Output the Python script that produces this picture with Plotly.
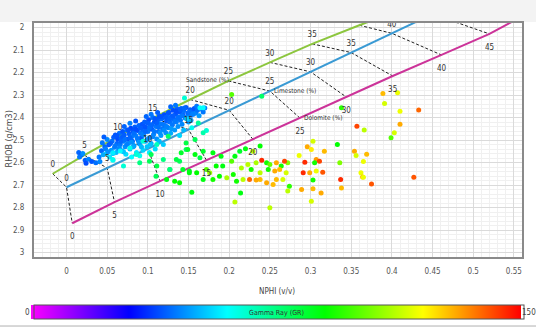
import plotly.graph_objects as go

# ---- lithology curves: porosity steps (%) with NPHI (v/v) and RHOB (g/cm3) ----
porosity = [0, 5, 10, 15, 20, 25, 30, 35, 40, 45]
porosity_dol = [0, 5, 10, 15, 20, 25, 30, 35, 40, 45, 50]

sand_nphi = [-0.017, 0.022, 0.063, 0.106, 0.152, 0.199, 0.250, 0.302, 0.360, 0.420]
sand_rhob = [2.65, 2.5675, 2.485, 2.4025, 2.32, 2.2375, 2.155, 2.0725, 1.99, 1.9075]
lime_nphi = [0.0, 0.05, 0.10, 0.15, 0.20, 0.25, 0.30, 0.35, 0.40, 0.45]
lime_rhob = [2.71, 2.6245, 2.539, 2.4535, 2.368, 2.2825, 2.197, 2.1115, 2.026, 1.9405]
dol_nphi = [0.007, 0.059, 0.115, 0.172, 0.229, 0.287, 0.344, 0.401, 0.461, 0.520, 0.568]
dol_rhob = [2.87, 2.7765, 2.683, 2.5895, 2.496, 2.4025, 2.309, 2.2155, 2.122, 2.0285, 1.935]

# ---- log samples (NPHI, RHOB, GR) ----
clean_nphi = [
    0.015, 0.018, 0.016, 0.023, 0.027, 0.031, 0.036, 0.041, 0.024, 0.020,
    0.044, 0.047, 0.050, 0.052, 0.055, 0.056, 0.058, 0.059, 0.061, 0.062, 0.063, 0.064, 0.049, 0.053, 0.057, 0.060, 0.065, 0.046,
    0.066, 0.067, 0.068, 0.069, 0.070, 0.071, 0.072, 0.073, 0.074, 0.075, 0.076, 0.077, 0.078, 0.079, 0.080, 0.081, 0.082, 0.083,
    0.084, 0.085, 0.086, 0.087, 0.088, 0.089, 0.090, 0.091, 0.092, 0.093, 0.094, 0.094, 0.071, 0.078, 0.085, 0.080, 0.090,
    0.095, 0.096, 0.097, 0.098, 0.099, 0.100, 0.101, 0.102, 0.103, 0.104, 0.105, 0.106, 0.107, 0.108, 0.109, 0.110, 0.111,
    0.112, 0.113, 0.114, 0.115, 0.116, 0.117, 0.118, 0.119, 0.120, 0.121, 0.122, 0.123, 0.124, 0.098, 0.104, 0.112, 0.102, 0.114,
    0.125, 0.126, 0.127, 0.128, 0.129, 0.130, 0.131, 0.132, 0.133, 0.134, 0.135, 0.136, 0.137, 0.138, 0.139, 0.140, 0.141,
    0.142, 0.143, 0.144, 0.146, 0.147, 0.149, 0.150, 0.152, 0.128, 0.134, 0.139, 0.144,
    0.153, 0.155, 0.157, 0.159, 0.161, 0.165, 0.168, 0.153,
    0.040, 0.043, 0.045, 0.048, 0.051, 0.054, 0.057, 0.060, 0.062, 0.065, 0.067, 0.069, 0.070, 0.072, 0.074,
    0.076, 0.078, 0.080, 0.082, 0.083, 0.085, 0.087, 0.089, 0.091, 0.092, 0.094, 0.096, 0.097, 0.099, 0.100,
    0.102, 0.103, 0.105, 0.106, 0.108, 0.109, 0.111, 0.113, 0.115, 0.116, 0.118, 0.120, 0.122, 0.123, 0.125,
    0.127, 0.129, 0.131, 0.133, 0.135, 0.137, 0.140, 0.142, 0.145, 0.148, 0.151, 0.156, 0.160, 0.163, 0.170,
]
clean_rhob = [
    2.556, 2.566, 2.575, 2.590, 2.585, 2.596, 2.601, 2.596, 2.603, 2.560,
    2.512, 2.530, 2.498, 2.521, 2.545, 2.505, 2.488, 2.532, 2.556, 2.515, 2.497, 2.540, 2.560, 2.575, 2.590, 2.478, 2.470, 2.487,
    2.520, 2.492, 2.548, 2.462, 2.505, 2.478, 2.530, 2.563, 2.455, 2.497, 2.515, 2.472, 2.540, 2.448, 2.486, 2.505, 2.462, 2.525,
    2.442, 2.480, 2.555, 2.458, 2.500, 2.435, 2.518, 2.470, 2.490, 2.430, 2.545, 2.455, 2.440, 2.425, 2.415, 2.575, 2.570,
    2.478, 2.420, 2.505, 2.445, 2.530, 2.462, 2.410, 2.490, 2.432, 2.515, 2.452, 2.400, 2.475, 2.420, 2.540, 2.440, 2.495,
    2.412, 2.462, 2.395, 2.428, 2.480, 2.405, 2.450, 2.520, 2.388, 2.435, 2.468, 2.415, 2.398, 2.395, 2.385, 2.378, 2.555, 2.505,
    2.445, 2.378, 2.420, 2.470, 2.395, 2.432, 2.368, 2.408, 2.455, 2.385, 2.420, 2.362, 2.440, 2.398, 2.375, 2.412, 2.360,
    2.430, 2.388, 2.370, 2.402, 2.355, 2.380, 2.420, 2.365, 2.352, 2.345, 2.480, 2.455,
    2.390, 2.372, 2.360, 2.380, 2.368, 2.362, 2.375, 2.412,
    2.575, 2.548, 2.565, 2.540, 2.552, 2.515, 2.560, 2.525, 2.480, 2.535, 2.505, 2.485, 2.552, 2.498, 2.520,
    2.455, 2.490, 2.510, 2.530, 2.470, 2.452, 2.492, 2.510, 2.448, 2.530, 2.476, 2.440, 2.462, 2.498, 2.425,
    2.445, 2.520, 2.432, 2.485, 2.462, 2.405, 2.425, 2.442, 2.468, 2.395, 2.430, 2.455, 2.400, 2.440, 2.380,
    2.405, 2.450, 2.392, 2.418, 2.372, 2.402, 2.365, 2.392, 2.358, 2.398, 2.375, 2.385, 2.350, 2.392, 2.358,
]
clean_gr = [
    42, 40, 44, 41, 45, 40, 43, 46, 39, 47,
    44, 42, 46, 40, 48, 43, 41, 45, 52, 42, 39, 47, 55, 58, 60, 40, 43, 41,
    44, 42, 50, 40, 45, 41, 47, 56, 43, 39, 46, 41, 51, 38, 44, 42, 40, 48,
    41, 45, 57, 39, 43, 42, 49, 44, 41, 40, 55, 43, 42, 45, 40, 60, 62,
    46, 41, 48, 40, 53, 44, 39, 45, 42, 50, 41, 43, 46, 40, 56, 44, 47,
    41, 43, 40, 45, 48, 42, 44, 54, 39, 43, 47, 41, 44, 42, 44, 41, 58, 52,
    46, 40, 43, 50, 41, 44, 39, 42, 48, 40, 45, 41, 47, 43, 40, 44, 42,
    46, 41, 43, 45, 40, 42, 48, 41, 42, 44, 55, 52,
    44, 42, 40, 45, 43, 46, 44, 50,
    44, 42, 50, 45, 47, 41, 52, 44, 40, 46, 42, 41, 53, 43, 45,
    40, 42, 47, 50, 43, 39, 44, 48, 41, 52, 45, 40, 42, 47, 41,
    43, 53, 42, 46, 44, 40, 41, 43, 47, 40, 44, 46, 41, 45, 40,
    42, 48, 41, 44, 39, 43, 41, 44, 42, 45, 43, 46, 44, 48, 45,
]

mixed_nphi = [
    0.155, 0.148, 0.162, 0.154, 0.172, 0.158, 0.147, 0.119, 0.104, 0.125, 0.111, 0.094, 0.078, 0.066,
    0.057, 0.070, 0.090, 0.102, 0.111, 0.127, 0.139, 0.086, 0.057, 0.168, 0.147, 0.164, 0.151, 0.123,
    0.133, 0.110, 0.139, 0.145, 0.164, 0.168, 0.203, 0.240,
    0.127, 0.135, 0.141, 0.149, 0.158, 0.168, 0.180, 0.190, 0.143, 0.151, 0.160, 0.168, 0.154,
    0.184, 0.192, 0.172, 0.176, 0.180, 0.188, 0.197, 0.205, 0.209, 0.203, 0.207, 0.213, 0.220,
    0.238, 0.229, 0.215, 0.223, 0.227, 0.233, 0.238, 0.246, 0.250, 0.248, 0.264, 0.272, 0.274, 0.214,
]
mixed_rhob = [
    2.384, 2.406, 2.424, 2.446, 2.458, 2.498, 2.513, 2.587, 2.564, 2.483, 2.520, 2.505, 2.535, 2.549,
    2.587, 2.616, 2.601, 2.594, 2.616, 2.631, 2.594, 2.564, 2.557, 2.468, 2.542, 2.579, 2.638, 2.675,
    2.683, 2.661, 2.690, 2.313, 2.357, 2.357, 2.298, 2.305,
    2.631, 2.587, 2.557, 2.542, 2.564, 2.550, 2.557, 2.572, 2.631, 2.646, 2.646, 2.676, 2.732,
    2.616, 2.616, 2.631, 2.646, 2.676, 2.661, 2.668, 2.653, 2.683, 2.594, 2.572, 2.550, 2.539,
    2.527, 2.550, 2.624, 2.609, 2.631, 2.601, 2.646, 2.601, 2.609, 2.631, 2.616, 2.601, 2.705, 2.735,
]
mixed_gr = [
    45, 55, 72, 62, 65, 80, 82, 75, 80, 78, 68, 65, 62, 60,
    62, 65, 75, 80, 82, 85, 80, 65, 58, 70, 78, 82, 86, 88,
    90, 80, 90, 65, 60, 60, 100, 78,
    75, 82, 85, 85, 88, 85, 88, 88, 85, 88, 90, 88, 88,
    90, 88, 100, 108, 92, 90, 110, 92, 92, 100, 88, 85, 88,
    90, 112, 110, 112, 92, 110, 112, 92, 102, 92, 92, 105, 95, 88,
]

shaly_nphi = [
    0.240, 0.258, 0.262, 0.268, 0.270, 0.256, 0.266, 0.258, 0.254, 0.246, 0.238, 0.233, 0.225, 0.217,
    0.272, 0.357, 0.366, 0.303, 0.296, 0.301, 0.317, 0.333, 0.354, 0.356, 0.286, 0.293, 0.307, 0.311,
    0.305, 0.336, 0.299, 0.307, 0.315, 0.291, 0.337, 0.362, 0.364, 0.303, 0.289, 0.303, 0.313, 0.338,
    0.301, 0.250, 0.207, 0.410, 0.403, 0.399, 0.369, 0.365, 0.365, 0.375, 0.427,
    0.389, 0.407, 0.391, 0.410, 0.433, 0.338,
]
shaly_rhob = [
    2.590, 2.601, 2.631, 2.594, 2.646, 2.638, 2.676, 2.676, 2.698, 2.690, 2.676, 2.678, 2.676, 2.676,
    2.727, 2.439, 2.456, 2.505, 2.530, 2.542, 2.550, 2.520, 2.550, 2.569, 2.569, 2.599, 2.587, 2.594,
    2.601, 2.601, 2.646, 2.638, 2.643, 2.646, 2.676, 2.646, 2.664, 2.678, 2.720, 2.717, 2.735, 2.713,
    2.772, 2.801, 2.776, 2.430, 2.468, 2.490, 2.563, 2.596, 2.665, 2.695, 2.665,
    2.293, 2.290, 2.338, 2.372, 2.367, 2.357,
]
shaly_gr = [
    145, 130, 128, 142, 115, 130, 115, 128, 128, 130, 128, 130, 138, 112,
    112, 142, 112, 115, 130, 122, 128, 90, 130, 115, 118, 145, 132, 142,
    92, 105, 130, 118, 140, 145, 145, 118, 128, 92, 130, 128, 130, 128,
    115, 112, 112, 130, 115, 100, 128, 118, 118, 140, 140,
    128, 118, 115, 118, 138, 95,
]

x_tick_vals = [0, 0.05, 0.1, 0.15, 0.2, 0.25, 0.3, 0.35, 0.4, 0.45, 0.5, 0.55]
x_tick_text = ["0", "0.05", "0.1", "0.15", "0.2", "0.25", "0.3", "0.35", "0.4", "0.45", "0.5", "0.55"]
y_tick_vals = [2, 2.1, 2.2, 2.3, 2.4, 2.5, 2.6, 2.7, 2.8, 2.9, 3]
y_tick_text = ["2", "2.1", "2.2", "2.3", "2.4", "2.5", "2.6", "2.7", "2.8", "2.9", "3"]

X_RANGE = [-0.04, 0.56]
Y_RANGE = [3.02, 1.98]
GR_MIN, GR_MAX = 0, 150
rainbow = [[0.0, "#ff00ff"], [0.2, "#0000ff"], [0.4, "#00ffff"],
           [0.6, "#00ff00"], [0.8, "#ffff00"], [1.0, "#ff0000"]]

FONT = "Liberation Sans Narrow, DejaVu Sans Condensed, Arial Narrow, sans-serif"
LABEL_COLOR = "#333333"

fig = go.Figure()

# iso-porosity connectors between the three lithology curves
iso_x, iso_y = [], []
for i in range(len(porosity)):
    iso_x += [sand_nphi[i], lime_nphi[i], dol_nphi[i], None]
    iso_y += [sand_rhob[i], lime_rhob[i], dol_rhob[i], None]
fig.add_trace(go.Scatter(x=iso_x, y=iso_y, mode="lines",
                         line=dict(color="#222222", width=1, dash="3px,2px"),
                         hoverinfo="skip"))

# lithology curves
for xs, ys, col in [(sand_nphi, sand_rhob, "#8cc63e"),
                    (lime_nphi, lime_rhob, "#3a9ad4"),
                    (dol_nphi, dol_rhob, "#cc3399")]:
    fig.add_trace(go.Scatter(x=xs, y=ys, mode="lines",
                             line=dict(color=col, width=2), hoverinfo="skip"))

# log samples coloured by gamma ray
all_nphi = clean_nphi + mixed_nphi + shaly_nphi
all_rhob = clean_rhob + mixed_rhob + shaly_rhob
all_gr = clean_gr + mixed_gr + shaly_gr
fig.add_trace(go.Scatter(
    x=all_nphi, y=all_rhob, mode="markers",
    marker=dict(size=5, color=all_gr, cmin=GR_MIN, cmax=GR_MAX, colorscale=rainbow,
                line=dict(width=0), showscale=True,
                colorbar=dict(orientation="h", xref="container", yref="container",
                              x=0.565, xanchor="center", y=0.026, yanchor="bottom",
                              lenmode="pixels", len=490, thickness=14,
                              xpad=0, ypad=0, outlinewidth=1, outlinecolor="#555555",
                              showticklabels=False, ticks="")),
    hoverinfo="skip"))


def visible_labels(xs, ys, steps, top_limit):
    """Keep only the porosity labels whose point sits inside the plotted density window."""
    keep = [i for i in range(len(xs)) if top_limit <= ys[i] <= Y_RANGE[0]]
    return [xs[i] for i in keep], [ys[i] for i in keep], [str(steps[i]) for i in keep]


# porosity labels along each curve
lbl_font = dict(family=FONT, size=8, color=LABEL_COLOR)
for xs, ys, steps, pos, lim, gap in [(sand_nphi, sand_rhob, porosity, "top center", 2.0, 6),
                                     (lime_nphi, lime_rhob, porosity, "top center", 2.0, 6),
                                     (dol_nphi, dol_rhob, porosity_dol, "bottom center", Y_RANGE[1], 14)]:
    lx, ly, lt = visible_labels(xs, ys, steps, lim)
    fig.add_trace(go.Scatter(x=lx, y=ly, mode="markers+text", text=lt, textposition=pos,
                             marker=dict(size=gap, color="rgba(0,0,0,0)"),
                             textfont=lbl_font, cliponaxis=True, hoverinfo="skip"))

# curve names beside the 25 % points
k = porosity.index(25)
name_font = dict(family=FONT, size=6.5, color=LABEL_COLOR)
name_notes = [
    dict(text="Sandstone (%)", x=sand_nphi[k], y=sand_rhob[k], xanchor="right", xshift=3, yshift=1),
    dict(text="Limestone (%)", x=lime_nphi[k], y=lime_rhob[k], xanchor="left", xshift=2, yshift=0),
    dict(text="Dolomite (%)", x=dol_nphi[k], y=dol_rhob[k], xanchor="left", xshift=2, yshift=0),
]
for note in name_notes:
    note.update(xref="x", yref="y", yanchor="middle", showarrow=False, font=name_font)

axis_common = dict(showline=True, mirror=True, linecolor="#8a8a8a", linewidth=2,
                   showgrid=True, gridcolor="#dadada", gridwidth=1, zeroline=False,
                   ticks="", tickfont=dict(family=FONT, size=8, color="#555555"))
fig.update_xaxes(range=X_RANGE, tickmode="array", tickvals=x_tick_vals,
                 ticktext=x_tick_text, ticklabelstandoff=5,
                 minor=dict(tickmode="linear", tick0=0, dtick=0.01, showgrid=True,
                            gridcolor="#f0f0f0", gridwidth=1),
                 **axis_common)
fig.update_yaxes(range=Y_RANGE, tickmode="array", tickvals=y_tick_vals,
                 ticktext=y_tick_text, ticklabelstandoff=6,
                 minor=dict(tickmode="linear", tick0=2, dtick=0.02, showgrid=True,
                            gridcolor="#f0f0f0", gridwidth=1),
                 **axis_common)

centered = dict(xref="paper", yref="paper", xanchor="center", yanchor="middle", showarrow=False)
fig.update_layout(
    width=536, height=329,
    margin=dict(l=34, r=14, t=23, b=72),
    paper_bgcolor="white", plot_bgcolor="white",
    showlegend=False,
    annotations=name_notes + [
        dict(text="NPHI (v/v)", x=0.497, y=-0.146,
             font=dict(family=FONT, size=8, color="#444444"), **centered),
        dict(text="RHOB (g/cm3)", x=-0.05, y=0.505, textangle=-90,
             font=dict(family="DejaVu Sans, sans-serif", size=8, color="#444444"), **centered),
        dict(text="Gamma Ray (GR)", x=0.4964, y=-0.239,
             font=dict(family=FONT, size=7, color="#333333"), **centered),
        dict(text="0", x=-0.0137, y=-0.239,
             font=dict(family=FONT, size=8, color="#444444"), **centered),
        dict(text="150", x=1.015, y=-0.239,
             font=dict(family=FONT, size=8, color="#444444"), **centered),
    ],
    shapes=[
        dict(type="rect", xref="paper", yref="paper", x0=-0.08, x1=1.03,
             y0=1.004, y1=1.1, fillcolor="#f3f3f3", line=dict(width=0), layer="below"),
        dict(type="line", xref="paper", yref="paper", x0=-0.08, x1=1.03,
             y0=-0.295, y1=-0.295, line=dict(color="#b0b0b0", width=1)),
    ],
)

fig.write_html("out.html")
